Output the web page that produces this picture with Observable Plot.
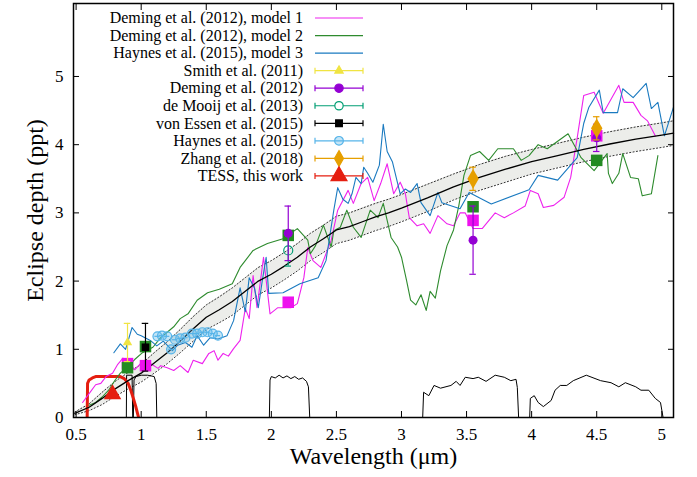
<!DOCTYPE html>
<html><head><meta charset="utf-8">
<script src="https://cdn.jsdelivr.net/npm/d3@7"></script>
<script src="https://cdn.jsdelivr.net/npm/@observablehq/plot@0.6"></script>
<style>body{margin:0;background:#fff} svg{display:block}</style>
</head><body><div id="chart"></div>
<script>
// ---------- data ----------
const xTicks = [0.5,1,1.5,2,2.5,3,3.5,4,4.5,5];
const yTicks = [0,1,2,3,4,5];

// best-fit model with uncertainty band
const modelWl  = [0.49,0.6,0.7,0.8,0.9,1.0,1.1,1.2,1.3,1.4,1.5,1.6,1.7,1.8,1.9,2.0,2.1,2.2,2.3,2.4,2.5,2.6,2.7,2.8,2.9,3.0,3.2,3.4,3.6,3.8,4.0,4.2,4.4,4.6,4.8,5.0,5.09];
const modelMid = [0.06,0.15,0.28,0.42,0.54,0.65,0.8,0.95,1.12,1.3,1.47,1.58,1.7,1.85,2.0,2.1,2.22,2.35,2.5,2.62,2.75,2.8,2.87,2.94,3.0,3.07,3.22,3.38,3.52,3.64,3.75,3.84,3.93,4.01,4.08,4.14,4.17];
const modelLo  = [0.04,0.1,0.19,0.31,0.42,0.52,0.65,0.79,0.95,1.12,1.29,1.39,1.5,1.65,1.8,1.9,2.02,2.15,2.3,2.42,2.55,2.6,2.67,2.74,2.8,2.87,3.02,3.19,3.33,3.45,3.57,3.66,3.75,3.83,3.9,3.96,3.99];
const modelHi  = [0.08,0.2,0.37,0.53,0.66,0.78,0.95,1.11,1.29,1.48,1.65,1.77,1.9,2.05,2.2,2.3,2.42,2.55,2.7,2.82,2.95,3.0,3.07,3.14,3.2,3.27,3.42,3.57,3.71,3.83,3.93,4.02,4.11,4.19,4.26,4.32,4.35];

// Deming et al. (2012), model 1
const m1Wl = [0.55,0.6,0.65,0.69,0.73,0.78,0.82,0.86,0.9,0.95,1.0,1.03,1.08,1.13,1.15,1.2,1.25,1.3,1.36,1.4,1.47,1.52,1.56,1.59,1.63,1.67,1.71,1.76,1.8,1.83,1.86,1.89,1.94,1.99,2.05,2.15,2.2,2.25,2.28,2.32,2.38,2.46,2.51,2.59,2.63,2.69,2.74,2.79,2.84,2.89,2.94,2.99,3.03,3.06,3.12,3.17,3.22,3.28,3.35,3.4,3.45,3.49,3.55,3.62,3.72,3.79,3.86,3.95,3.99,4.05,4.09,4.17,4.25,4.3,4.35,4.4,4.48,4.55,4.67,4.71,4.78,4.84,4.89,4.95];
const m1D  = [0.22,0.35,0.48,0.5,0.6,0.65,0.78,0.87,0.82,0.7,0.8,0.84,0.78,0.72,0.76,0.73,0.69,0.76,0.66,0.84,0.79,0.94,0.98,0.84,0.94,0.9,1.01,1.13,1.6,1.45,2.08,1.61,2.35,1.52,1.61,1.61,1.67,2.05,2.49,2.3,2.2,2.6,3.04,3.33,3.14,3.43,3.52,3.18,3.43,3.72,3.28,3.45,3.28,2.93,2.81,2.84,2.7,2.96,2.84,2.81,3.0,3.0,2.77,2.77,3.0,2.93,3.0,3.1,3.33,3.28,3.08,3.11,3.23,3.52,4.1,4.72,4.77,4.46,4.87,4.62,4.62,4.43,4.35,4.13];

// Deming et al. (2012), model 2
const m2Wl = [0.6,0.65,0.7,0.75,0.8,0.84,0.9,0.95,1.01,1.09,1.15,1.2,1.25,1.3,1.36,1.43,1.51,1.6,1.7,1.76,1.8,1.86,1.97,2.09,2.2,2.28,2.3,2.34,2.4,2.46,2.48,2.53,2.58,2.63,2.69,2.76,2.82,2.86,2.92,2.97,3.0,3.04,3.07,3.11,3.15,3.19,3.22,3.26,3.3,3.35,3.4,3.44,3.48,3.53,3.6,3.67,3.74,3.86,3.92,3.98,4.05,4.12,4.28,4.38,4.48,4.58,4.59,4.62,4.67,4.7,4.76,4.82,4.85,4.92,4.97];
const m2D  = [0.18,0.22,0.3,0.4,0.55,0.65,0.75,0.85,0.95,1.03,1.17,1.25,1.33,1.45,1.52,1.72,1.83,1.88,1.96,2.2,2.3,2.45,2.55,2.62,2.77,2.6,2.4,2.52,2.82,2.5,2.74,2.79,3.04,2.79,2.64,3.04,2.93,3.14,2.64,2.5,2.35,2.0,1.72,1.65,1.8,1.57,1.85,1.75,2.15,2.52,2.75,3.1,3.55,3.84,3.9,3.77,3.94,3.94,3.77,3.84,4.0,3.94,4.16,3.81,3.62,3.87,3.58,3.43,3.58,3.87,3.52,3.5,3.25,3.28,3.84];

// Haynes et al. (2015), model 3
const m3Wl = [0.79,0.84,0.88,0.93,0.97,1.0,1.07,1.12,1.17,1.24,1.28,1.34,1.39,1.43,1.48,1.53,1.59,1.66,1.71,1.76,1.8,1.83,1.87,1.9,1.93,1.96,1.98,2.09,2.22,2.36,2.42,2.48,2.51,2.55,2.59,2.62,2.65,2.69,2.71,2.74,2.78,2.83,2.86,2.89,2.93,2.99,3.03,3.07,3.12,3.15,3.22,3.28,3.31,3.45,3.52,3.69,3.98,4.05,4.2,4.35,4.4,4.44,4.52,4.55,4.66,4.7,4.78,4.88,4.92,4.97,5.02,5.09];
const m3D  = [0.95,1.08,1.0,1.32,1.22,1.2,1.13,1.05,1.12,0.98,1.06,1.1,1.03,1.2,1.06,1.17,1.15,1.2,1.42,1.9,1.55,2.05,1.9,1.61,2.0,2.35,1.82,1.83,1.96,2.05,2.3,3.04,3.37,3.2,3.14,3.28,3.52,3.43,3.67,3.58,3.45,3.7,4.3,3.9,3.75,3.28,3.35,3.3,3.43,3.15,2.96,3.3,3.15,3.06,3.3,3.13,3.34,3.55,3.48,3.81,4.31,4.55,4.8,4.47,4.47,4.82,4.69,4.9,4.53,4.62,4.13,4.55];

// filter / bandpass curves (scaled)
const tessWl = [0.585,0.588,0.6,0.625,0.65,0.7,0.75,0.8,0.84,0.87,0.9,0.92,0.94,0.96,0.98];
const tessT  = [0,0.5,0.55,0.58,0.6,0.6,0.6,0.6,0.6,0.57,0.5,0.4,0.28,0.15,0];
const zWl  = [0.886,0.888,0.93,0.935];
const zT   = [0,0.62,0.62,0];
const yWl  = [0.94,0.945,0.96,1.0,1.05,1.1,1.115,1.12];
const yT   = [0,0.55,0.6,0.62,0.62,0.6,0.5,0];
const ksWl = [1.985,1.99,2.0,2.03,2.06,2.09,2.12,2.15,2.18,2.21,2.24,2.27,2.285,2.295];
const ksT  = [0,0.55,0.6,0.58,0.62,0.58,0.61,0.57,0.6,0.56,0.58,0.53,0.45,0];
const i1Wl = [3.163,3.17,3.21,3.25,3.3,3.38,3.42,3.45,3.49,3.55,3.59,3.65,3.72,3.79,3.84,3.88,3.89,3.9];
const i1T  = [0,0.37,0.32,0.47,0.43,0.47,0.53,0.47,0.59,0.57,0.59,0.53,0.62,0.59,0.54,0.56,0.44,0];
const i2Wl = [3.985,3.99,4.02,4.05,4.09,4.15,4.18,4.22,4.27,4.32,4.42,4.53,4.61,4.67,4.72,4.8,4.84,4.9,4.95,4.99,5.01];
const i2T  = [0,0.28,0.32,0.22,0.16,0.25,0.4,0.47,0.47,0.54,0.62,0.54,0.51,0.45,0.51,0.45,0.4,0.4,0.28,0.22,0];

// band-integrated model values
const bandWl = [0.895,1.033,2.13,3.55,4.5];
const bandM1 = [0.79,0.76,1.69,2.89,4.13];
const bandM2 = [0.73,1.04,2.67,3.09,3.77];

// observations: wavelength, depth, error
const smithWl = [0.895], smithD = [1.1], smithE = [0.28];
const demingWl = [2.13,3.55,4.5], demingD = [2.7,2.6,4.1], demingE = [0.4,0.5,0.2];
const mooijWl = [2.13], mooijD = [2.45], mooijE = [0.23];
const essenWl = [1.033], essenD = [1.03], essenE = [0.35];
const haynesWl = [1.125,1.16,1.2,1.23,1.26,1.3,1.34,1.39,1.43,1.47,1.51,1.55,1.59];
const haynesD  = [1.19,1.2,1.19,1.0,1.14,1.16,1.17,1.23,1.23,1.25,1.25,1.23,1.2];
const zhangWl = [3.55,4.5], zhangD = [3.5,4.24], zhangE = [0.17,0.17];
const tessPtWl = [0.78], tessPtD = [0.34];

const labels = ["Deming et al. (2012), model 1","Deming et al. (2012), model 2","Haynes et al. (2015), model 3","Smith et al. (2011)","Deming et al. (2012)","de Mooij et al. (2013)","von Essen et al. (2015)","Haynes et al. (2015)","Zhang et al. (2018)","TESS, this work"];

// ---------- colours ----------
const C = {m1:"#ee22ee", m2:"#2e8b2e", m3:"#1a7ac0", smith:"#f0e442", deming:"#9400d3", mooij:"#009e73", essen:"#000000", haynes:"#56b4e9", zhang:"#e69f00", tess:"#e51e10", sq1:"#ee11ee", sq2:"#228b22"};
const FONT = "'Liberation Serif', 'Times New Roman', serif";

// ---------- helpers ----------
const zip = (w, v) => w.map((x,i)=>({x, y:v[i]}));
const zipE = (w, v, e) => w.map((x,i)=>({x, y:v[i], e:e[i]}));
const band = modelWl.map((x,i)=>({x, lo:modelLo[i], mid:modelMid[i], hi:modelHi[i]}));
const capW = 0.025;
function errMarks(data, color, sw=1.2) {
  return [
    Plot.ruleX(data, {x:"x", y1:d=>d.y-d.e, y2:d=>d.y+d.e, stroke:color, strokeWidth:sw}),
    Plot.ruleY(data, {y:d=>d.y-d.e, x1:d=>d.x-capW, x2:d=>d.x+capW, stroke:color, strokeWidth:sw}),
    Plot.ruleY(data, {y:d=>d.y+d.e, x1:d=>d.x-capW, x2:d=>d.x+capW, stroke:color, strokeWidth:sw})
  ];
}
const filt = (w,t,color="black",sw=1) => Plot.line(zip(w,t), {x:"x", y:"y", stroke:color, strokeWidth:sw, clip:true});
const fmt = d => String(d);

const chart = Plot.plot({
  width:697, height:477,
  marginLeft:73, marginRight:24, marginTop:3, marginBottom:60,
  x:{domain:[0.48,5.09]}, y:{domain:[0,6.07]},
  style:{fontFamily:FONT, background:"white", color:"black"},
  marks:[
    Plot.areaY(band, {x:"x", y1:"lo", y2:"hi", fill:"#ecedea"}),
    Plot.line(band, {x:"x", y:"lo", stroke:"#333", strokeWidth:1, strokeDasharray:"1.2,2.2"}),
    Plot.line(band, {x:"x", y:"hi", stroke:"#333", strokeWidth:1, strokeDasharray:"1.2,2.2"}),
    filt(zWl,zT), filt(yWl,yT), filt(ksWl,ksT), filt(i1Wl,i1T), filt(i2Wl,i2T),
    filt(tessWl,tessT,C.tess,3),
    Plot.line(zip(m1Wl,m1D), {x:"x", y:"y", stroke:C.m1, strokeWidth:1.1}),
    Plot.line(zip(m2Wl,m2D), {x:"x", y:"y", stroke:C.m2, strokeWidth:1.1}),
    Plot.line(zip(m3Wl,m3D), {x:"x", y:"y", stroke:C.m3, strokeWidth:1.1}),
    Plot.line(band, {x:"x", y:"mid", stroke:"black", strokeWidth:1.3}),
    Plot.dot(zip(bandWl,bandM1), {x:"x", y:"y", symbol:"square", r:6.5, fill:C.sq1}),
    Plot.dot(zip(bandWl,bandM2), {x:"x", y:"y", symbol:"square", r:6.5, fill:C.sq2}),
    // observations
    ...errMarks(zipE(smithWl,smithD,smithE), C.smith),
    Plot.dot(zip(smithWl,smithD), {x:"x", y:"y", symbol:"triangle", r:3.5, fill:C.smith}),
    ...errMarks(zipE(essenWl,essenD,essenE), C.essen),
    Plot.dot(zip(essenWl,essenD), {x:"x", y:"y", symbol:"square", r:4.3, fill:C.essen}),
    Plot.ruleY(zip(haynesWl,haynesD), {y:"y", x1:d=>d.x-0.02, x2:d=>d.x+0.02, stroke:C.haynes, strokeWidth:1.2}),
    Plot.dot(zip(haynesWl,haynesD), {x:"x", y:"y", r:4.5, stroke:C.haynes, fill:C.haynes, fillOpacity:0.35, strokeWidth:1.2}),
    ...errMarks(zipE(mooijWl,mooijD,mooijE), C.mooij),
    Plot.dot(zip(mooijWl,mooijD), {x:"x", y:"y", r:4.5, stroke:C.mooij, fill:"none", strokeWidth:1.2}),
    ...errMarks(zipE(demingWl,demingD,demingE), C.deming),
    Plot.dot(zip(demingWl,demingD), {x:"x", y:"y", r:4.5, fill:C.deming}),
    ...errMarks(zipE(zhangWl,zhangD,zhangE), C.zhang),
    Plot.dot(zip(zhangWl,zhangD), {x:"x", y:"y", symbol:"diamond", r:6, fill:C.zhang}),
    Plot.dot(zip(tessPtWl,tessPtD), {x:"x", y:"y", symbol:"triangle", r:6.5, fill:C.tess}),
    // axes
    Plot.axisX(xTicks, {anchor:"bottom", tickSize:0, tickPadding:10, fontSize:17, tickFormat:fmt, label:null}),
    Plot.axisX(xTicks, {anchor:"bottom", tickSize:6, dy:-6, text:null, label:null}),
    Plot.axisX(xTicks, {anchor:"top", tickSize:6, dy:6, text:null, label:null}),
    Plot.axisY(yTicks, {anchor:"left", tickSize:0, tickPadding:10, fontSize:17, tickFormat:fmt, label:null}),
    Plot.axisY(yTicks, {anchor:"left", tickSize:6, dx:6, text:null, label:null}),
    Plot.axisY(yTicks, {anchor:"right", tickSize:6, dx:-6, text:null, label:null}),
    Plot.frame({stroke:"black", strokeWidth:1.5}),
    Plot.text(["Wavelength (μm)"], {frameAnchor:"bottom", textAnchor:"middle", dy:46, fontSize:24}),
    Plot.text(["Eclipse depth (ppt)"], {frameAnchor:"left", textAnchor:"middle", dx:-38, rotate:-90, fontSize:24})
  ]
});
document.getElementById("chart").appendChild(chart);

// ---------- key ----------
const svg = d3.select(chart);
const key = svg.append("g").attr("font-family",FONT).attr("font-size",16);
const kinds = [
  {type:"line", c:C.m1},{type:"line", c:C.m2},{type:"line", c:C.m3},
  {type:"err", c:C.smith, sym:d3.symbolTriangle, size:30, fill:true},
  {type:"err", c:C.deming, sym:d3.symbolCircle, size:55, fill:true},
  {type:"err", c:C.mooij, sym:d3.symbolCircle, size:55, fill:false},
  {type:"err", c:C.essen, sym:d3.symbolSquare, size:45, fill:true},
  {type:"err", c:C.haynes, sym:d3.symbolCircle, size:60, fill:"light"},
  {type:"err", c:C.zhang, sym:d3.symbolDiamond, size:70, fill:true},
  {type:"err", c:C.tess, sym:d3.symbolTriangle, size:110, fill:true}
];
const x0 = 315, x1 = 363, xm = 339;
labels.forEach((lab,i)=>{
  const y = 18 + i*17.55;
  key.append("text").attr("x",303).attr("y",y).attr("dy","0.33em").attr("text-anchor","end").text(lab);
  const k = kinds[i];
  key.append("line").attr("x1",x0).attr("x2",x1).attr("y1",y).attr("y2",y).attr("stroke",k.c).attr("stroke-width",1.2);
  if (k.type==="err") {
    [x0,x1].forEach(xx=>key.append("line").attr("x1",xx).attr("x2",xx).attr("y1",y-3).attr("y2",y+3).attr("stroke",k.c).attr("stroke-width",1.2));
    key.append("path").attr("transform",`translate(${xm},${y})`).attr("d",d3.symbol(k.sym,k.size)())
      .attr("fill", k.fill===true?k.c:(k.fill==="light"?k.c:"white")).attr("fill-opacity", k.fill==="light"?0.35:1)
      .attr("stroke",k.c).attr("stroke-width",1.2);
  }
});
</script>
</body></html>
